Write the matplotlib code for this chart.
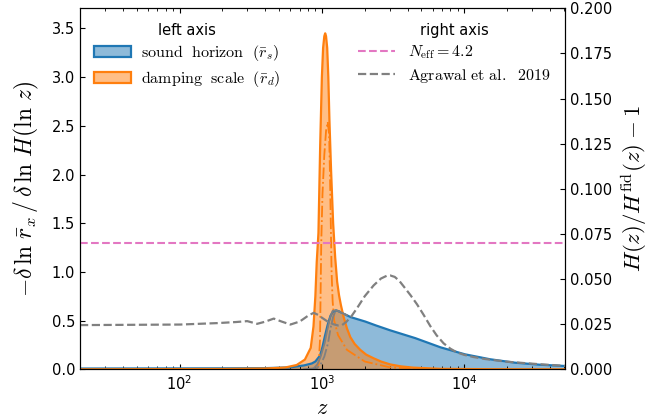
import matplotlib
matplotlib.use("Agg")
import matplotlib.pyplot as plt
from matplotlib.patches import Patch
import numpy as np

plt.rcParams['mathtext.fontset'] = 'cm'
plt.rcParams['font.size'] = 10.5

# sound horizon (left axis)
z_s = [20, 200, 400, 600, 750, 850, 900, 970, 1010, 1050, 1100, 1150, 1200, 1260,
       1320, 1400, 1600, 2020, 2400, 3020, 4530, 6800, 10100, 15200, 22700, 34000, 51000]
r_s = [0.008, 0.01, 0.012, 0.02, 0.04, 0.06, 0.08, 0.14, 0.23, 0.34, 0.46, 0.55, 0.595, 0.605,
       0.595, 0.575, 0.535, 0.49, 0.45, 0.40, 0.32, 0.226, 0.154, 0.103, 0.068, 0.047, 0.034]

# damping scale (left axis)
z_d = [20, 200, 400, 550, 665, 760, 835, 873, 900, 920, 946, 973, 1000, 1020, 1040, 1055,
       1070, 1090, 1110, 1130, 1160, 1200, 1240, 1280, 1320, 1360, 1420, 1500, 1585, 1700,
       1860, 2050, 2310, 2600, 3020, 3600, 4400, 6800, 15000, 51000]
r_d = [0.0, 0.003, 0.008, 0.018, 0.044, 0.10, 0.22, 0.44, 0.75, 1.1, 1.4, 2.3, 3.0, 3.3, 3.42, 3.45,
       3.42, 3.3, 3.0, 2.56, 2.05, 1.5, 1.15, 0.9, 0.76, 0.66, 0.54, 0.42, 0.33, 0.26,
       0.2, 0.15, 0.113, 0.08, 0.05, 0.03, 0.017, 0.005, 0.001, 0.0]

# dash-dot damping variant (left axis)
z_d2 = [900, 950, 970, 980, 990, 1010, 1040, 1070, 1100, 1125, 1140, 1155, 1170, 1190,
        1220, 1300, 1500, 2000, 3000, 6000]
r_d2 = [0.0, 0.05, 0.3, 0.8, 1.3, 1.8, 2.2, 2.45, 2.54, 2.4, 2.0, 1.5, 1.0, 0.7,
        0.5, 0.35, 0.2, 0.08, 0.02, 0.0]

# gray solid / dash-dot variants (left axis)
z_g1 = [750, 876, 930, 980, 1046, 1090, 1140, 1190, 1250, 1320, 1400, 1500]
r_g1 = [0.0, 0.01, 0.05, 0.13, 0.27, 0.40, 0.53, 0.60, 0.605, 0.595, 0.575, 0.555]
z_g2 = [800, 920, 980, 1040, 1105, 1150, 1200, 1240, 1300, 1400, 1500]
r_g2 = [0.0, 0.01, 0.05, 0.13, 0.27, 0.42, 0.54, 0.59, 0.595, 0.575, 0.555]

# right axis
n_eff = 0.07
z_agr = [20, 101, 184, 250, 299, 351, 400, 459, 520, 601, 700, 800, 876, 950, 1000, 1100,
         1200, 1300, 1386, 1480, 1600, 1770, 2000, 2310, 2600, 2850, 3020, 3250, 3500,
         3750, 4200, 4660, 5200, 5770, 6400, 7160, 8000, 8870, 10000, 11600, 14000,
         20000, 27000, 34000, 51000]
h_agr = [0.0245, 0.0248, 0.0256, 0.0262, 0.0267, 0.0252, 0.0264, 0.0281, 0.0265, 0.0248,
         0.0265, 0.0297, 0.0313, 0.0300, 0.0286, 0.0264, 0.0250, 0.0243, 0.0245, 0.0262,
         0.0290, 0.0340, 0.0405, 0.0465, 0.0503, 0.0518, 0.0520, 0.0512, 0.0490,
         0.0460, 0.0410, 0.0360, 0.0300, 0.0240, 0.0188, 0.0144, 0.0114, 0.0094, 0.0080,
         0.0068, 0.0057, 0.0042, 0.0034, 0.0028, 0.0019]

fig = plt.figure(figsize=(6.54, 4.19), dpi=100)
ax = fig.add_subplot(111)
fig.subplots_adjust(left=0.1223, right=0.8639, bottom=0.1186, top=0.980)

ax.fill_between(z_s, 0, r_s, facecolor='C0', alpha=0.5, edgecolor='none')
ax.plot(z_s, r_s, color='C0', lw=1.6)
ax.fill_between(z_d, 0, r_d, facecolor='C1', alpha=0.5, edgecolor='none')
ax.plot(z_d, r_d, color='C1', lw=1.6)
ax.plot(z_d2, r_d2, color='C1', lw=1.3, ls='-.')
ax.plot(z_g1, r_g1, color='gray', lw=1.3, ls='-')
ax.plot(z_g2, r_g2, color='gray', lw=1.3, ls='-.')

p1 = Patch(facecolor=(0.122, 0.467, 0.706, 0.5), edgecolor='C0', lw=1.6)
p2 = Patch(facecolor=(1.0, 0.498, 0.055, 0.5), edgecolor='C1', lw=1.6)
ax.legend([p1, p2], [r'$\mathrm{sound\ \ horizon}\ \ (\bar{r}_s)$',
                     r'$\mathrm{damping\ \ scale}\ \ (\bar{r}_d)$'],
          title='left axis', loc='upper left', frameon=False, fontsize=11.5,
          title_fontsize=10.5, labelspacing=0.35, handlelength=2.3, handletextpad=0.6)

ax.set_xscale('log')
ax.set_xlim(20, 5.1e4)
ax.set_ylim(0, 3.706)
ax.set_yticks(np.arange(0, 3.6, 0.5))
ax.tick_params(which='both', direction='in', top=True, right=False)
ax.set_xlabel(r'$z$', fontsize=16)
ax.set_ylabel(r'$-\delta\,\ln\,\bar{r}_x\,/\,\delta\,\ln\,H(\ln\,z)$', fontsize=17, labelpad=8)

ax2 = ax.twinx()
ax2.axhline(n_eff, color='C6', ls='--', lw=1.5, label=r'$N_{\rm eff}=4.2$')
ax2.plot(z_agr, h_agr, color='gray', ls='--', lw=1.6, label=r'$\mathrm{Agrawal\ et\ al.\ \ 2019}$')
ax2.set_ylim(0, 0.2)
ax2.set_yticks(np.arange(0, 0.201, 0.025))
ax2.set_yticklabels(['%.3f' % v for v in np.arange(0, 0.201, 0.025)])
ax2.tick_params(direction='in')
ax2.set_ylabel(r'$H(z)/H^{\rm fid}(z)\:-\:1$', fontsize=16.5, labelpad=6)
ax2.legend(title='right axis', loc='upper right', frameon=False, fontsize=11.5,
           title_fontsize=10.5, labelspacing=0.35, handlelength=2.3)

fig.savefig('out.png', dpi=100)
